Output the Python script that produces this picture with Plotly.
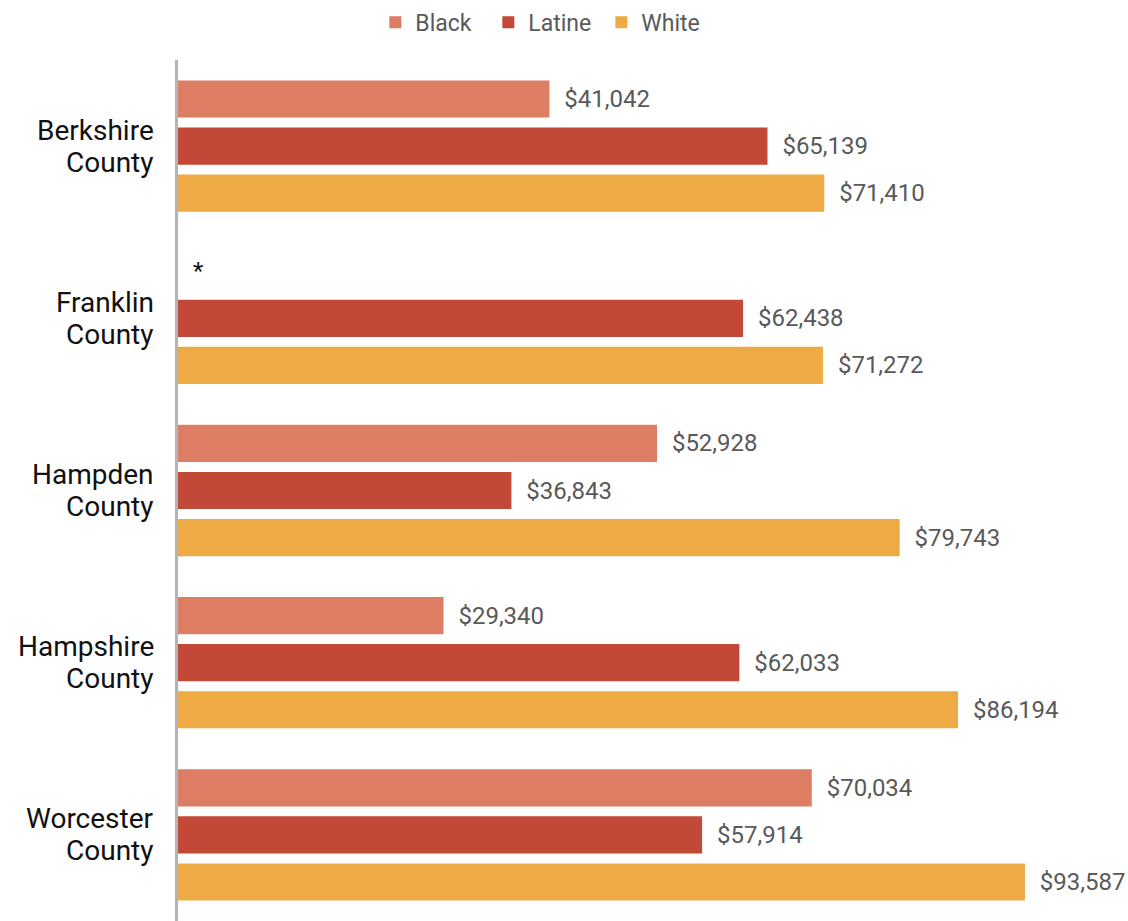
import plotly.graph_objects as go

counties = ["Berkshire County", "Franklin County", "Hampden County", "Hampshire County", "Worcester County"]
black = [41042, None, 52928, 29340, 70034]
latine = [65139, 62438, 36843, 62033, 57914]
white = [71410, 71272, 79743, 86194, 93587]

series = [("Black", black, "#DD7D63"), ("Latine", latine, "#C24837"), ("White", white, "#EDAA45")]

NB = "\u00a0\u00a0"

fig = go.Figure()
for name, vals, color in series:
    xs = [v if v is not None else 0 for v in vals]
    texts = [NB + (f"${v:,.0f}" if v is not None else "*") for v in vals]
    tcolors = ["#595959" if v is not None else "#111111" for v in vals]
    fig.add_trace(go.Bar(
        name=name, y=counties, x=xs, orientation="h",
        marker=dict(color=color, line=dict(width=0)),
        text=texts, textposition="outside", cliponaxis=False,
        textfont=dict(family="Roboto", size=24, color=tcolors),
        hoverinfo="skip",
    ))

for c in counties:
    first, second = c.split(" ")
    for txt, dy in ((first, 16), (second, -16)):
        fig.add_annotation(
            x=0, xref="paper", xanchor="right", xshift=-22,
            y=c, yref="y", yshift=dy, yanchor="middle",
            text=txt, showarrow=False,
            font=dict(family="Roboto", size=28, color="#111111"),
        )

fig.update_layout(
    width=1128, height=921,
    margin=dict(l=178, r=10, t=60, b=0, autoexpand=False),
    paper_bgcolor="white", plot_bgcolor="white",
    barmode="group", bargap=0.18, bargroupgap=0.21,
    showlegend=True,
    legend=dict(orientation="h", xref="container", yref="container",
                x=0.483, xanchor="center", y=0.999, yanchor="top",
                entrywidth=68, entrywidthmode="pixels",
                font=dict(family="Roboto", size=23, color="#595959"),
                traceorder="normal", itemclick=False),
    xaxis=dict(range=[0, 103870], showticklabels=False, showgrid=False,
               zeroline=False, showline=False, fixedrange=True),
    yaxis=dict(autorange="reversed", showticklabels=False, showgrid=False,
               zeroline=False, showline=True, linecolor="#B4B4B4", linewidth=3,
               ticks="", fixedrange=True),
)

fig.write_html("out.html", config={"displayModeBar": False},
               post_script="document.body.style.margin='0';document.body.style.padding='0';")
